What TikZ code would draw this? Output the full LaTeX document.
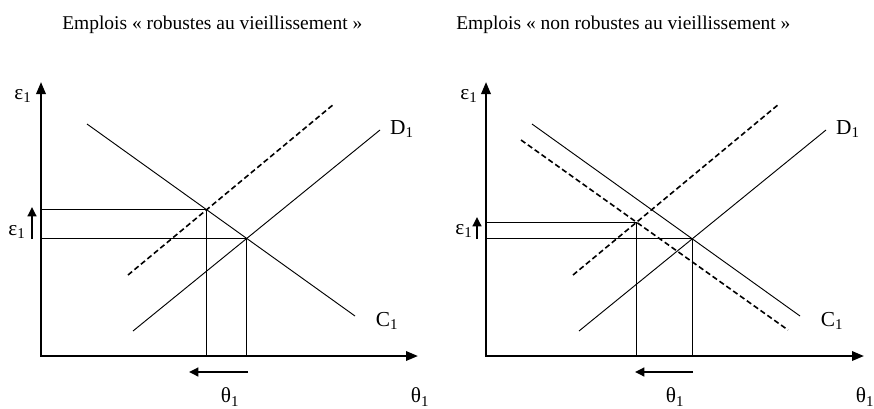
\documentclass[tikz,border=0pt]{standalone}
\usepackage{fontspec}
\setmainfont{Liberation Serif}
\usetikzlibrary{arrows.meta}

\begin{document}
\begin{tikzpicture}[
    x=0.75pt, y=-0.75pt,
    axis/.style={line width=1.7pt, line join=miter, {Triangle[length=9pt, width=7pt]}-{Triangle[length=9pt, width=7pt]}},
    curve/.style={line width=0.7pt},
    shifted/.style={line width=1.2pt, dash pattern=on 4pt off 2.3pt},
    guide/.style={line width=0.9pt},
    move/.style={line width=1.7pt, -{Triangle[length=7pt, width=6.5pt]}},
    lab/.style={font=\fontsize{16}{18}\selectfont, inner sep=0pt},
    title/.style={font=\fontsize{14.6}{17}\selectfont, anchor=west, inner sep=0pt}
  ]
    \useasboundingbox (0,0) rectangle (874,408);

    % left: emplois robustes
    \node[title] (t1) at (62,25) {Emplois « robustes au vieillissement »};
    \coordinate (O1) at (41,356);
    \coordinate (Y1) at (41,82);
    \coordinate (X1) at (418,356);
    \coordinate (d1a) at (133,331);
    \coordinate (d1b) at (380,130);
    \coordinate (c1a) at (87,124);
    \coordinate (c1b) at (355,316);
    \coordinate (d2a) at (128,275);
    \coordinate (d2b) at (334,104);
    \coordinate (E1) at (intersection of d1a--d1b and c1a--c1b);
    \coordinate (E2) at (intersection of d2a--d2b and c1a--c1b);
    \coordinate (m1a) at (248,372);
    \coordinate (m1b) at (189,372);
    \coordinate (u1a) at (32,239);
    \coordinate (u1b) at (32,207);

    \draw[guide] (O1 |- E1) -- (E1) -- (E1 |- O1);
    \draw[guide] (O1 |- E2) -- (E2) -- (E2 |- O1);
    \draw[curve] (d1a) -- (d1b);
    \draw[curve] (c1a) -- (c1b);
    \draw[shifted] (d2a) -- (d2b);
    \draw[axis] (Y1) -- (O1) -- (X1);
    \draw[move] (m1a) -- (m1b);
    \draw[move] (u1a) -- (u1b);

    \node[lab] (eps1) at (23,96) {ε\textsubscript{1}};
    \node[lab] (eps2) at (17,232) {ε\textsubscript{1}};
    \node[lab] (th1) at (230,397) {θ\textsubscript{1}};
    \node[lab] (th2) at (420,397) {θ\textsubscript{1}};
    \node[lab] (D1) at (402,129) {D\textsubscript{1}};
    \node[lab] (C1) at (387,321) {C\textsubscript{1}};

    % right: emplois non robustes
    \node[title] (t2) at (456,25) {Emplois « non robustes au vieillissement »};
    \coordinate (O2) at (486,356);
    \coordinate (Y2) at (486,82);
    \coordinate (X2) at (864,356);
    \coordinate (d3a) at (579,331);
    \coordinate (d3b) at (826,130);
    \coordinate (c3a) at (532,124);
    \coordinate (c3b) at (800,316);
    \coordinate (d4a) at (573,275);
    \coordinate (d4b) at (779,104);
    \coordinate (c4a) at (521,140);
    \coordinate (c4b) at (788,330);
    \coordinate (E3) at (intersection of d3a--d3b and c3a--c3b);
    \coordinate (E4) at (intersection of d4a--d4b and c4a--c4b);
    \coordinate (m2a) at (693,372);
    \coordinate (m2b) at (635,372);
    \coordinate (u2a) at (477,239);
    \coordinate (u2b) at (477,217);

    \draw[guide] (O2 |- E3) -- (E3) -- (E3 |- O2);
    \draw[guide] (O2 |- E4) -- (E4) -- (E4 |- O2);
    \draw[curve] (d3a) -- (d3b);
    \draw[curve] (c3a) -- (c3b);
    \draw[shifted] (d4a) -- (d4b);
    \draw[shifted] (c4a) -- (c4b);
    \draw[axis] (Y2) -- (O2) -- (X2);
    \draw[move] (m2a) -- (m2b);
    \draw[move] (u2a) -- (u2b);

    \node[lab] (eps3) at (469,96) {ε\textsubscript{1}};
    \node[lab] (eps4) at (464,231) {ε\textsubscript{1}};
    \node[lab] (th3) at (675,397) {θ\textsubscript{1}};
    \node[lab] (th4) at (865,397) {θ\textsubscript{1}};
    \node[lab] (D2) at (848,129) {D\textsubscript{1}};
    \node[lab] (C2) at (832,321) {C\textsubscript{1}};
\end{tikzpicture}
\end{document}
